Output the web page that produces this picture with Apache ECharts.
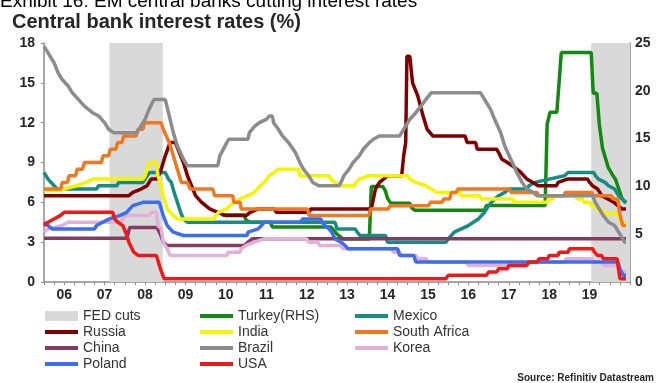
<!DOCTYPE html>
<html>
<head>
<meta charset="utf-8">
<script src="https://cdn.jsdelivr.net/npm/echarts@6/dist/echarts.min.js"></script>
<style>
  html, body { margin: 0; padding: 0; background: #fff; }
  #chart { width: 657px; height: 383px; }
</style>
</head>
<body>
<div id="chart"></div>
<script>
// policy rates, [year, %]
const fedCuts = [[2007.62, 2008.94], [2019.54, 2020.5]];

const turkey = [[2010.4,7.0],[2010.95,7.0],[2011.0,6.5],[2011.08,6.25],[2011.6,6.25],[2011.65,5.75],[2013.1,5.75],[2013.15,5.5],[2013.25,5.0],[2013.4,4.5],[2014.05,4.5],[2014.1,10.0],[2014.38,10.0],[2014.45,9.5],[2014.5,8.75],[2014.58,8.25],[2015.05,8.25],[2015.1,7.75],[2015.18,7.5],[2016.9,7.5],[2016.95,8.0],[2018.4,8.0],[2018.45,16.5],[2018.52,17.75],[2018.69,17.75],[2018.8,24.0],[2019.54,24.0],[2019.59,19.75],[2019.68,19.75],[2019.74,16.5],[2019.82,14.0],[2019.96,12.0],[2020.06,11.25],[2020.14,10.75],[2020.22,9.75],[2020.3,8.75],[2020.4,8.25]];

const mexico = [[2006.0,8.25],[2006.1,7.75],[2006.25,7.25],[2006.33,7.0],[2007.3,7.0],[2007.35,7.25],[2007.8,7.25],[2007.85,7.5],[2008.45,7.5],[2008.5,7.75],[2008.55,8.0],[2008.62,8.25],[2009.0,8.25],[2009.08,7.75],[2009.15,7.5],[2009.22,6.75],[2009.3,6.0],[2009.38,5.25],[2009.45,4.75],[2009.55,4.5],[2013.2,4.5],[2013.25,4.0],[2013.7,4.0],[2013.75,3.75],[2013.82,3.5],[2014.45,3.5],[2014.5,3.0],[2015.95,3.0],[2016.0,3.25],[2016.15,3.75],[2016.5,4.25],[2016.75,4.75],[2016.9,5.25],[2017.0,5.75],[2017.15,6.25],[2017.25,6.5],[2017.4,6.75],[2017.5,7.0],[2017.95,7.0],[2018.0,7.25],[2018.15,7.5],[2018.5,7.75],[2018.88,8.0],[2018.97,8.25],[2019.6,8.25],[2019.65,8.0],[2019.72,7.75],[2019.88,7.5],[2019.97,7.25],[2020.12,7.0],[2020.22,6.5],[2020.4,6.0]];

const russia = [[2006.0,6.5],[2008.1,6.5],[2008.2,6.75],[2008.4,7.0],[2008.55,7.25],[2008.65,7.75],[2008.8,7.75],[2008.9,8.5],[2009.0,9.5],[2009.12,10.5],[2009.25,10.5],[2009.35,9.75],[2009.45,9.0],[2009.55,8.0],[2009.65,7.25],[2009.75,6.5],[2009.9,6.0],[2010.1,5.5],[2010.3,5.25],[2010.5,5.0],[2011.0,5.0],[2011.1,5.25],[2011.3,5.5],[2011.7,5.5],[2011.75,5.25],[2012.55,5.25],[2012.6,5.5],[2014.1,5.5],[2014.2,7.0],[2014.3,7.5],[2014.5,8.0],[2014.85,8.0],[2014.9,9.5],[2014.95,10.5],[2014.98,17.0],[2015.05,17.0],[2015.12,15.0],[2015.25,14.0],[2015.38,12.5],[2015.48,11.5],[2015.62,11.0],[2016.42,11.0],[2016.47,10.5],[2016.68,10.5],[2016.72,10.0],[2017.2,10.0],[2017.25,9.75],[2017.33,9.25],[2017.47,9.0],[2017.7,8.5],[2017.8,8.25],[2017.95,7.75],[2018.1,7.5],[2018.22,7.25],[2018.68,7.25],[2018.72,7.5],[2018.95,7.75],[2019.45,7.75],[2019.5,7.5],[2019.57,7.25],[2019.7,7.0],[2019.8,6.5],[2019.95,6.25],[2020.1,6.0],[2020.3,5.5],[2020.4,5.5]];

const india = [[2006.0,6.9],[2006.4,6.9],[2006.5,7.0],[2006.8,7.25],[2007.05,7.5],[2007.2,7.75],[2008.45,7.75],[2008.5,8.0],[2008.55,8.5],[2008.6,9.0],[2008.78,9.0],[2008.82,8.0],[2008.88,7.5],[2008.95,6.5],[2009.05,5.5],[2009.2,5.0],[2009.3,4.75],[2010.2,4.75],[2010.25,5.0],[2010.32,5.25],[2010.52,5.5],[2010.6,5.75],[2010.7,6.0],[2010.85,6.25],[2011.05,6.5],[2011.2,6.75],[2011.35,7.25],[2011.45,7.5],[2011.57,8.0],[2011.7,8.25],[2011.8,8.5],[2012.3,8.5],[2012.33,8.0],[2013.05,8.0],[2013.1,7.75],[2013.2,7.5],[2013.35,7.25],[2013.68,7.25],[2013.72,7.5],[2013.8,7.75],[2014.05,8.0],[2015.0,8.0],[2015.05,7.75],[2015.2,7.5],[2015.45,7.25],[2015.72,6.75],[2016.28,6.75],[2016.32,6.5],[2016.78,6.5],[2016.82,6.25],[2017.6,6.25],[2017.64,6.0],[2018.45,6.0],[2018.48,6.25],[2018.6,6.25],[2018.64,6.5],[2019.15,6.5],[2019.19,6.25],[2019.32,6.25],[2019.36,6.0],[2019.5,6.0],[2019.54,5.75],[2019.65,5.75],[2019.69,5.4],[2019.82,5.4],[2019.86,5.15],[2020.22,5.15],[2020.28,4.4],[2020.4,4.4]];

const southAfrica = [[2006.0,7.0],[2006.42,7.0],[2006.45,7.5],[2006.58,7.5],[2006.62,8.0],[2006.78,8.0],[2006.82,8.5],[2006.95,8.5],[2007.0,9.0],[2007.42,9.0],[2007.46,9.5],[2007.6,9.5],[2007.64,10.0],[2007.78,10.0],[2007.82,10.5],[2007.93,10.5],[2007.97,11.0],[2008.28,11.0],[2008.32,11.5],[2008.45,11.5],[2008.48,12.0],[2008.9,12.0],[2008.95,11.5],[2009.1,10.5],[2009.2,9.5],[2009.3,8.5],[2009.4,7.5],[2009.55,7.5],[2009.62,7.0],[2010.18,7.0],[2010.22,6.5],[2010.67,6.5],[2010.7,6.0],[2010.85,6.0],[2010.88,5.5],[2012.52,5.5],[2012.56,5.0],[2014.04,5.0],[2014.08,5.5],[2014.52,5.5],[2014.56,5.75],[2015.52,5.75],[2015.56,6.0],[2015.85,6.0],[2015.89,6.25],[2016.04,6.25],[2016.08,6.75],[2016.2,6.75],[2016.24,7.0],[2017.52,7.0],[2017.56,6.75],[2018.2,6.75],[2018.24,6.5],[2018.87,6.5],[2018.9,6.75],[2019.55,6.75],[2019.59,6.5],[2020.04,6.5],[2020.08,6.25],[2020.2,6.25],[2020.24,5.25],[2020.32,4.25],[2020.4,4.25]];

const china = [[2006.0,3.3],[2008.05,3.3],[2008.12,4.1],[2008.8,4.1],[2008.88,3.6],[2008.95,3.0],[2009.05,2.75],[2010.95,2.75],[2011.05,3.0],[2011.15,3.25],[2020.4,3.25]];

const brazil = [[2006.0,17.75],[2006.1,17.25],[2006.25,16.5],[2006.35,15.75],[2006.45,15.25],[2006.6,14.75],[2006.7,14.25],[2006.85,13.75],[2007.0,13.25],[2007.2,12.75],[2007.35,12.5],[2007.5,12.0],[2007.6,11.5],[2007.72,11.25],[2008.3,11.25],[2008.4,11.75],[2008.5,12.25],[2008.6,13.0],[2008.72,13.75],[2009.0,13.75],[2009.08,12.75],[2009.2,11.25],[2009.3,10.25],[2009.45,9.25],[2009.55,8.75],[2010.3,8.75],[2010.35,9.5],[2010.48,10.25],[2010.57,10.75],[2011.05,10.75],[2011.08,11.25],[2011.22,11.75],[2011.33,12.0],[2011.5,12.25],[2011.58,12.5],[2011.65,12.5],[2011.68,12.0],[2011.8,11.5],[2011.9,11.0],[2012.05,10.5],[2012.22,9.75],[2012.33,9.0],[2012.42,8.5],[2012.55,8.0],[2012.65,7.5],[2012.8,7.25],[2013.3,7.25],[2013.35,7.5],[2013.42,8.0],[2013.55,8.5],[2013.65,9.0],[2013.8,9.5],[2013.9,10.0],[2014.05,10.5],[2014.15,10.75],[2014.3,11.0],[2014.8,11.0],[2014.85,11.25],[2014.95,11.75],[2015.05,12.25],[2015.2,12.75],[2015.33,13.25],[2015.45,13.75],[2015.58,14.25],[2016.8,14.25],[2016.85,14.0],[2016.9,13.75],[2017.05,13.0],[2017.15,12.25],[2017.3,11.25],[2017.4,10.25],[2017.55,9.25],[2017.7,8.25],[2017.83,7.5],[2017.95,7.0],[2018.1,6.75],[2018.2,6.5],[2019.58,6.5],[2019.64,6.0],[2019.74,5.5],[2019.84,5.0],[2019.97,4.5],[2020.12,4.25],[2020.22,3.75],[2020.37,3.0],[2020.4,3.0]];

const korea = [[2006.0,3.75],[2006.1,4.0],[2006.45,4.25],[2006.6,4.5],[2007.9,4.5],[2008.0,5.0],[2008.6,5.0],[2008.65,5.25],[2008.78,5.25],[2008.82,4.25],[2008.9,4.0],[2008.95,3.0],[2009.05,2.5],[2009.12,2.0],[2010.52,2.0],[2010.56,2.25],[2010.85,2.25],[2010.88,2.5],[2011.0,2.75],[2011.2,3.0],[2011.45,3.25],[2012.5,3.25],[2012.55,3.0],[2012.78,3.0],[2012.82,2.75],[2013.35,2.75],[2013.4,2.5],[2014.6,2.5],[2014.65,2.25],[2014.8,2.25],[2014.85,2.0],[2015.2,2.0],[2015.25,1.75],[2015.45,1.75],[2015.5,1.5],[2016.45,1.5],[2016.5,1.25],[2017.88,1.25],[2017.92,1.5],[2018.88,1.5],[2018.92,1.75],[2019.55,1.75],[2019.6,1.5],[2019.8,1.5],[2019.85,1.25],[2020.2,1.25],[2020.25,0.75],[2020.4,0.75]];

const poland = [[2006.0,4.5],[2006.1,4.25],[2006.2,4.0],[2007.25,4.0],[2007.3,4.25],[2007.45,4.5],[2007.62,4.75],[2007.87,5.0],[2008.05,5.25],[2008.12,5.5],[2008.2,5.75],[2008.45,6.0],[2008.85,6.0],[2008.88,5.75],[2008.95,5.0],[2009.05,4.25],[2009.12,4.0],[2009.2,3.75],[2009.45,3.5],[2011.02,3.5],[2011.05,3.75],[2011.3,4.0],[2011.38,4.25],[2011.45,4.5],[2012.35,4.5],[2012.4,4.75],[2012.85,4.75],[2012.88,4.5],[2012.95,4.25],[2013.05,4.0],[2013.12,3.75],[2013.2,3.25],[2013.35,3.0],[2013.45,2.75],[2013.52,2.5],[2014.75,2.5],[2014.8,2.0],[2015.15,2.0],[2015.2,1.5],[2020.2,1.5],[2020.25,1.0],[2020.33,0.5],[2020.4,0.5]];

const usa = [[2006.0,4.25],[2006.1,4.5],[2006.25,4.75],[2006.4,5.0],[2006.5,5.25],[2007.7,5.25],[2007.75,4.75],[2007.83,4.5],[2007.95,4.25],[2008.05,3.5],[2008.1,3.0],[2008.22,2.25],[2008.33,2.0],[2008.78,2.0],[2008.83,1.5],[2008.88,1.0],[2008.97,0.25],[2015.95,0.25],[2016.0,0.5],[2016.95,0.5],[2017.0,0.75],[2017.2,0.75],[2017.25,1.0],[2017.47,1.0],[2017.5,1.25],[2017.95,1.25],[2018.0,1.5],[2018.2,1.5],[2018.25,1.75],[2018.47,1.75],[2018.5,2.0],[2018.72,2.0],[2018.75,2.25],[2018.97,2.25],[2019.0,2.5],[2019.58,2.5],[2019.62,2.25],[2019.7,2.0],[2019.8,2.0],[2019.84,1.75],[2020.18,1.75],[2020.25,0.25],[2020.4,0.25]];

const lineSeries = [
  { name: 'Turkey(RHS)', data: turkey, color: '#128a12', right: true },
  { name: 'Mexico', data: mexico, color: '#178c85' },
  { name: 'Russia', data: russia, color: '#800000' },
  { name: 'India', data: india, color: '#f5f500' },
  { name: 'South Africa', data: southAfrica, color: '#f07820' },
  { name: 'China', data: china, color: '#853a62' },
  { name: 'Brazil', data: brazil, color: '#8c8c8c' },
  { name: 'Korea', data: korea, color: '#e2b0d8' },
  { name: 'Poland', data: poland, color: '#3d6ef0' },
  { name: 'USA', data: usa, color: '#ee1a1a' },
];

const chart = echarts.init(document.getElementById('chart'));

const axisText = { color: '#262626', fontSize: 14, fontWeight: 'bold', fontFamily: 'Liberation Sans' };
// legend: 3 columns, lines drawn as thin rects
const legendBase = {
  orient: 'vertical',
  itemWidth: 33,
  itemHeight: 4,
  itemGap: 2,
  icon: 'rect',
  selectedMode: false,
  textStyle: { fontSize: 14, color: '#333', fontFamily: 'Liberation Sans' },
};

chart.setOption({
  animation: false,
  title: {
    text: 'Central bank interest rates (%)',
    left: 12,
    top: 12,
    padding: 0,
    textStyle: { fontSize: 20, fontWeight: 'bold', color: '#262626', fontFamily: 'Liberation Sans' },
  },
  graphic: [
    {
      type: 'text', left: 0, top: -8,
      style: { text: 'Exhibit 16: EM central banks cutting interest rates', font: '19px "Liberation Sans"', fill: '#000' },
    },
    {
      type: 'text', right: 3, bottom: 0,
      style: { text: 'Source: Refinitiv Datastream', font: 'bold 10px "Liberation Sans"', fill: '#262626' },
    },
  ],
  grid: { left: 44, right: 27, top: 43, bottom: 101 },
  legend: [
    { ...legendBase, left: 40, top: 304, itemHeight: 10, data: ['FED cuts'] },
    { ...legendBase, left: 40, top: 320, data: ['Russia', 'China', 'Poland'] },
    { ...legendBase, left: 195, top: 304, data: ['Turkey(RHS)', 'India', 'Brazil', 'USA'] },
    { ...legendBase, left: 350, top: 304, data: ['Mexico', 'South Africa', 'Korea'] },
  ],
  xAxis: {
    type: 'value',
    min: 2006,
    max: 2020.5,
    interval: 0.25,
    axisLine: { lineStyle: { color: '#8c8c8c', width: 1.5 } },
    axisTick: { length: 3, lineStyle: { color: '#8c8c8c' } },
    splitLine: { show: false },
    axisLabel: {
      ...axisText,
      margin: 6,
      formatter: (v) => (v < 2020 && Math.abs((v % 1) - 0.5) < 1e-6 ? String(Math.floor(v) % 100).padStart(2, '0') : ''),
    },
  },
  yAxis: [
    {
      type: 'value', min: 0, max: 18, interval: 3,
      axisLine: { show: true, lineStyle: { color: '#8c8c8c', width: 1.5 } },
      axisTick: { show: true, length: 3, lineStyle: { color: '#8c8c8c' } },
      splitLine: { show: false },
      axisLabel: { ...axisText, margin: 9 },
    },
    {
      type: 'value', min: 0, max: 25, interval: 5, position: 'right',
      axisLine: { show: true, lineStyle: { color: '#8c8c8c', width: 1.5 } },
      axisTick: { show: true, inside: true, length: 4, lineStyle: { color: '#8c8c8c' } },
      minorTick: { show: true, splitNumber: 5, length: 3, lineStyle: { color: '#8c8c8c' } },
      splitLine: { show: false },
      axisLabel: { ...axisText, margin: 5 },
    },
  ],
  series: [
    {
      name: 'FED cuts',
      type: 'line',
      data: [],
      z: 1,
      itemStyle: { color: '#d9d9d9' },
      lineStyle: { color: '#d9d9d9' },
      markArea: {
        silent: true,
        itemStyle: { color: '#d9d9d9' },
        data: fedCuts.map(([a, b]) => [{ xAxis: a }, { xAxis: b }]),
      },
    },
    ...lineSeries.map((s) => ({
      name: s.name,
      type: 'line',
      yAxisIndex: s.right ? 1 : 0,
      data: s.data,
      symbol: 'none',
      z: 3,
      color: s.color,
      lineStyle: { width: 3.5, color: s.color },
    })),
  ],
});
</script>
</body>
</html>
